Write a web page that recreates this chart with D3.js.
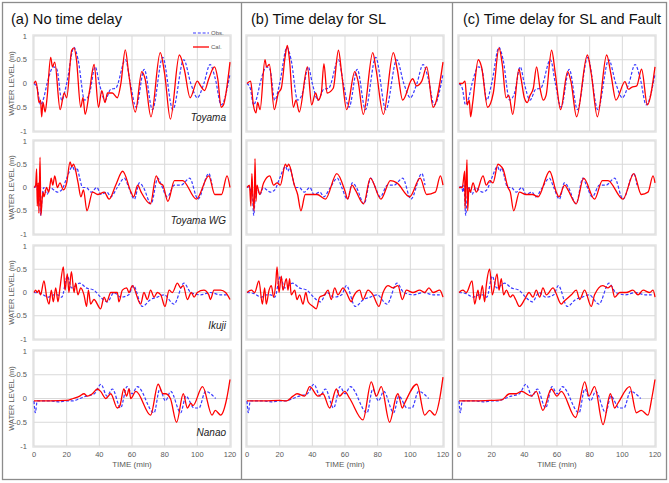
<!DOCTYPE html>
<html><head><meta charset="utf-8">
<script src="https://cdn.jsdelivr.net/npm/d3@7"></script>
<style>
html,body{margin:0;padding:0;background:#fff;}
svg{display:block;font-family:"Liberation Sans",Arial,sans-serif;}
</style></head>
<body>
<svg id="chart" width="669" height="483"></svg>
<script>
// ---------- DATA ----------
const panelTitles = ["(a) No time delay", "(b) Time delay for SL", "(c) Time delay for SL and Fault"];
const stations = ["Toyama", "Toyama WG", "Ikuji", "Nanao"];
const xTicks = [0, 20, 40, 60, 80, 100, 120];
const yTicks = [1, 0.5, 0, -0.5, -1];
const yTickLabels = ["1", "0.5", "0", "-0.5", "-1"];
const legendLabels = ["Obs.", "Cal."];

// [time (min), water level (m)]
const toyamaObs = [[0,0],[2,-0.1],[4,-0.45],[6,-0.3],[8,0],[12,0.35],[14,0.3],[17,-0.35],[20,0],[24.5,0.76],[27,0.5],[31,-0.35],[34,-0.2],[37.5,0.35],[40,0],[43.5,-0.35],[47,-0.12],[50,-0.1],[56,0.5],[59,0],[62.5,-0.5],[67.5,0.3],[72.5,-0.55],[78.8,0.55],[85,-0.55],[91.7,0.5],[96,0],[100,-0.3],[104,0],[107.8,0.4],[111,0.1],[114.6,-0.45],[120,0.2]];
const toyamaCalA = [[0,0],[1,0.05],[2,-0.1],[3,-0.4],[4,-0.35],[4.7,-0.7],[5.5,-0.4],[6.8,-0.6],[8,-0.3],[10.2,0.55],[11.3,0.35],[12.7,0.45],[16,-0.55],[18.5,-0.2],[20,-0.3],[23.1,0.7],[24.5,0.75],[26,0.5],[28.6,-0.5],[30,-0.3],[31.3,-0.65],[34,-0.15],[36.8,0.4],[39.5,-0.5],[41.5,-0.15],[43.5,-0.4],[45,-0.2],[48,-0.2],[51,-0.3],[53.2,0],[55.9,0.71],[58,0.2],[62,-0.6],[66,0.25],[68,0.1],[71.6,-0.7],[77.3,0.65],[80,0.2],[83.5,-0.75],[89,0.6],[92,0.3],[95.6,-0.3],[100,0.05],[102,-0.05],[104.4,-0.15],[107,0.1],[110.5,0.35],[112.5,0.1],[114.6,-0.5],[116,-0.45],[120,0.45]];
const toyamaCalB = [[0,0],[2.2,0.05],[3.9,-0.45],[5.5,-0.62],[6.5,-0.4],[8,-0.55],[11,0.5],[12,0.35],[13.7,0.4],[16.7,-0.55],[19.2,-0.2],[21,-0.1],[23.3,0.55],[24.7,0.8],[26,0.5],[28.4,-0.5],[30,-0.35],[32,-0.6],[37,0.35],[39.6,-0.45],[42,-0.2],[43.6,-0.35],[45.5,-0.2],[47.1,0.42],[49,-0.2],[52.8,-0.1],[56,0.7],[58,0.2],[61,-0.55],[66,0.25],[68,0.05],[71.2,-0.65],[77,0.65],[79,0.3],[83.5,-0.65],[89.6,0.65],[92,0.3],[95.3,-0.35],[101.4,0.1],[103.8,-0.05],[107,0.05],[110,0.35],[114,-0.5],[120,0.45]];
const toyamaCalC = [[0,0],[2,0],[3.7,0.05],[5,-0.45],[6.3,-0.35],[7.1,-0.7],[8.4,-0.4],[11.8,0.5],[13.8,0.35],[17.5,-0.5],[21,-0.2],[24.5,0.75],[26.5,0.4],[28.8,-0.3],[30.5,-0.25],[32.9,-0.65],[36.7,0.3],[38,0.1],[40,-0.3],[41.8,-0.4],[43.5,-0.25],[45.5,-0.1],[47.5,0.35],[49.6,-0.1],[51.6,-0.35],[53.3,-0.25],[56.7,0.7],[59,0.2],[62.2,-0.55],[66.5,0.25],[68.5,0.05],[72,-0.7],[78.6,0.6],[81,0.2],[84.7,-0.7],[90.4,0.6],[93,0.2],[96.1,-0.35],[101.6,0.04],[103.7,-0.12],[105.7,-0.08],[108.8,-0.05],[111.8,0.3],[115.3,-0.45],[120,0.35]];

const wgObs = [[0,0],[1.5,0.02],[2.5,-0.1],[3,0.05],[4.1,-0.6],[5,-0.2],[6,0],[8,-0.15],[10,0],[12,-0.05],[14.3,-0.1],[17,-0.05],[20,0.2],[23.6,0.45],[25,0.35],[26.2,0.42],[28,0.2],[29.7,0],[32,0],[35,-0.1],[38.5,0],[41,-0.15],[44.7,-0.1],[47,-0.2],[51,0],[55.3,0.2],[58,0],[61.5,-0.25],[64.5,0.1],[67,0],[71.7,-0.35],[75.8,0.2],[78,0.05],[81.6,-0.2],[86,0.05],[90,0.05],[95.3,0.2],[100.4,-0.25],[107,0.3],[109,0.05]];
const wgCalA = [[0,0],[1,0.05],[1.6,0.4],[2,-0.4],[2.6,0.1],[3,-0.55],[3.7,0.65],[4.2,-0.6],[5,-0.25],[5.6,-0.1],[6.1,-0.2],[7.7,0],[9,-0.1],[10,0.1],[10.5,0.2],[11.5,0.05],[12.7,0.25],[14.3,0],[15.9,0.1],[18,-0.05],[20,0.1],[22.1,0.55],[23.1,0.45],[24.2,0.5],[27,0.1],[28.7,-0.2],[30.3,-0.05],[32.4,-0.5],[35.9,-0.1],[39,-0.15],[43,-0.1],[46,-0.25],[50,0.05],[54.3,0.35],[59.4,-0.1],[61,-0.2],[63.5,0.05],[65.6,-0.1],[71.3,-0.35],[74.8,0.25],[76.8,0.1],[78.9,0.05],[82,-0.3],[86,0.15],[91,0.15],[99.4,-0.25],[107,0.25],[110.7,-0.15],[114.8,-0.15],[118.2,0.25],[120,0]];
const wgCalB = [[0,0],[1.5,0.05],[2.4,-0.4],[3,0.3],[3.6,-0.2],[4.4,-0.5],[4.9,0.62],[5.5,-0.3],[6.1,0.05],[7.8,-0.15],[10.2,0.1],[13.9,0.25],[16.3,0.05],[18.4,0.1],[20.4,0.05],[23.5,0.5],[24.5,0.45],[25.5,0.5],[29,0.05],[31,-0.15],[33,-0.5],[35.7,-0.15],[38.8,-0.15],[42.9,-0.15],[48,-0.25],[55,0.3],[60.2,-0.1],[61.6,-0.25],[64.3,0.05],[66.3,-0.05],[71.4,-0.35],[75.5,0.2],[82,-0.25],[87.8,0.15],[91.8,0.1],[99.6,-0.2],[106,0.2],[110,-0.15],[115.3,-0.1],[118.4,0.25],[120,0.05]];
const wgCalC = [[0,0],[2,0],[3.5,0.35],[3.7,-0.45],[4.9,0.6],[5.3,-0.5],[6.1,0],[6.9,-0.1],[8.6,0.1],[10.6,-0.1],[14.7,0.25],[16.7,0.05],[18.8,0.15],[20.8,0.1],[23.9,0.5],[25.9,0.45],[26.9,0.4],[30,0],[31.4,-0.1],[33.5,-0.5],[37,-0.1],[41,-0.15],[45,-0.15],[48.4,-0.2],[55.5,0.35],[59.6,-0.1],[61.2,-0.2],[64.7,0.05],[66.7,-0.05],[71.8,-0.35],[76.3,0.2],[83,-0.25],[87.8,0.15],[91.2,0.15],[100.4,-0.25],[107,0.3],[111.6,-0.15],[115.7,-0.1],[118.8,0.25],[120,0.1]];

const ikujiObs = [[0,0],[4,-0.02],[9,-0.1],[12,-0.05],[14.5,-0.05],[17,-0.1],[20.4,0.35],[23,0.1],[28,0.2],[32,0.1],[36.7,0.05],[40.8,-0.1],[45,-0.2],[49,0],[53,-0.1],[58,-0.05],[60.8,0.15],[66.3,-0.3],[71.4,-0.15],[75.5,-0.1],[79.6,-0.05],[85.7,-0.25],[91.8,0.2],[96,0],[102,-0.05],[108,0],[114,-0.05],[118,-0.05]];
const ikujiCalA = [[0,0],[1,0.05],[2,0],[3,0.05],[4,-0.05],[6.1,0.25],[7.8,-0.1],[9.2,-0.25],[10.6,0.05],[11.8,-0.2],[13.3,0.1],[14.7,-0.2],[15.9,0.1],[18,0.55],[19,0.05],[20.4,0.4],[21.4,0],[22.9,0.45],[24.5,0],[25.5,0.2],[26.9,-0.05],[28.6,0.1],[30.6,-0.05],[32.2,-0.3],[33.3,0.05],[34.7,-0.25],[36.7,-0.15],[40.8,-0.35],[42.9,-0.1],[44.5,-0.2],[47,0],[51,0],[52,-0.2],[54.1,0.05],[56.7,0.1],[58.2,0],[60.2,0.15],[65.3,-0.25],[67.3,0],[69.4,-0.15],[71.4,0.05],[73.5,-0.1],[75.5,0],[77.6,-0.05],[80.2,-0.3],[82.7,0.05],[84.7,0],[87.8,0.2],[89.8,0.1],[91.4,0.15],[93.9,-0.15],[96.3,0],[98,-0.1],[100,0],[104,0.05],[107,-0.05],[108,-0.15],[110.2,0.05],[114.3,0.05],[117.3,0],[120,-0.15]];
const ikujiCalB = [[0,0],[2.7,0.05],[4.7,0],[7.3,0.25],[9.4,-0.25],[10.8,0.1],[11.8,-0.25],[13.5,0.05],[14.9,0.15],[16.3,-0.1],[17.6,0.2],[18.4,0.55],[19.6,0],[21,0.35],[22,0.05],[24.1,0.3],[25.1,0.05],[26.1,0.3],[27.1,-0.05],[29.2,0.05],[30.6,-0.15],[32.2,-0.05],[34.3,-0.25],[36,0],[37.4,-0.2],[40.4,-0.3],[42.4,-0.35],[44.5,-0.1],[47.5,-0.05],[49.6,0.05],[51.6,-0.15],[53.7,0.1],[55.7,-0.05],[58.8,0.1],[60.8,0],[63.9,-0.2],[65,-0.1],[69,0.05],[71,-0.15],[74.1,0.05],[77.1,-0.05],[80.8,-0.3],[83.3,0],[86.3,0.15],[89.4,0.1],[92.4,0.15],[95.1,-0.15],[97.6,0.05],[101.6,0],[105.7,0.05],[108.8,0],[111.4,0.1],[113.9,0],[118,0.05],[120,-0.1]];
const ikujiCalC = [[0,0],[2.4,0.05],[4.5,0],[8,0.25],[9.6,-0.25],[11.6,0.05],[12.7,-0.15],[14.3,0.15],[15.7,-0.2],[16.7,0.15],[18.8,0.5],[20.4,-0.05],[23.3,0.4],[24.5,0.05],[25.9,0.3],[27.3,-0.05],[29,0.05],[31.4,-0.1],[33,-0.05],[34.7,-0.15],[37,-0.3],[40.2,-0.15],[42.9,0],[45.3,-0.1],[47.3,0.05],[49.4,-0.1],[51.4,0.1],[53.5,-0.05],[57.6,0.1],[59.2,0],[62.6,-0.25],[64,-0.2],[68.8,-0.05],[71.8,0.05],[73.9,-0.15],[76.9,0.05],[81,-0.3],[83,-0.05],[88,0.15],[91.2,0.1],[93.3,0.15],[95.3,-0.1],[98.4,0],[102.4,0],[106.5,0.05],[109.6,-0.05],[112.7,0.05],[116.7,0],[118.8,0.05],[120,-0.1]];

const nanaoObs = [[0,-0.05],[0.8,-0.3],[2,-0.05],[10,-0.05],[15,-0.07],[20,-0.05],[24,-0.05],[28,0],[32,0.05],[37,0.1],[41,0.3],[44.7,0.05],[48,0.2],[53,-0.2],[57,0.25],[60,0.1],[63.3,0.25],[73.5,-0.3],[77,0.2],[80.5,-0.05],[83.7,0.15],[89.8,-0.3],[93,0.05],[98,-0.2],[101,-0.2],[105,0.15],[111.2,0]];
const nanaoCalA = [[0,-0.05],[10,-0.05],[20,-0.04],[24,0],[28,0.05],[30.6,0.1],[32.7,0.05],[35.7,0.1],[38.8,0.2],[40.8,0.15],[44,0],[47,0.1],[51,-0.2],[52.6,-0.15],[55,0.2],[56.7,0.05],[58.2,0.2],[59.2,0],[62.4,0.15],[71.4,-0.35],[76,0.3],[79,0.1],[80.5,0.1],[83.5,0],[87.3,-0.5],[91.4,0.1],[93.9,-0.2],[96,-0.1],[97.3,-0.15],[103.2,0.25],[109,-0.35],[111,-0.25],[114.3,-0.35],[118,0],[120,0.4]];
const nanaoCalB = [[0,-0.05],[10,-0.05],[20,-0.04],[24,-0.05],[28.2,0.05],[30.6,0.1],[35.3,0.05],[38.4,0.25],[43.5,0.05],[46.5,0.1],[50.6,-0.2],[54.7,0.2],[56.7,0.05],[59.8,0.15],[62.9,0],[71,-0.45],[76.1,0.35],[79.2,0.05],[82.2,0.25],[87.3,-0.5],[91.4,0.05],[92.4,0.1],[95.1,-0.2],[96.5,-0.1],[104,0.3],[108.8,-0.35],[111.8,-0.25],[115,-0.35],[118,0],[120,0.45]];
const nanaoCalC = [[0,-0.05],[10,-0.05],[20,-0.04],[26,-0.03],[31,0.1],[35,0.1],[38.2,0.15],[44.3,0.05],[47.3,0.15],[51.4,-0.25],[56.5,0.2],[60,0.05],[62.6,0.15],[71.4,-0.4],[77,0.35],[79.6,0.05],[83,0.25],[88.2,-0.55],[92.7,0.1],[95.3,-0.2],[97.3,-0.1],[104.5,0.25],[108.6,-0.3],[111.6,-0.25],[115.7,-0.35],[118,0],[120,0.4]];

const obsSeries = [toyamaObs, wgObs, ikujiObs, nanaoObs];
const calSeries = [
  [toyamaCalA, toyamaCalB, toyamaCalC],
  [wgCalA, wgCalB, wgCalC],
  [ikujiCalA, ikujiCalB, ikujiCalC],
  [nanaoCalA, nanaoCalB, nanaoCalC]
];

// ---------- LAYOUT ----------
const svg = d3.select("#chart");
const colX = [[34, 230], [247, 443], [459, 655]];
const rowY = [[36, 131], [141, 234], [246, 339], [351, 446]];
const titleLen = [111, 135, 198];
const titleX = [11, 251, 463];
const gridColor = "#d9d9d9";
const textGray = "#595959";
const obsColor = "#3a3aff";
const calColor = "#ff0000";

// outer frame & separators
svg.append("rect").attr("x", 2.5).attr("y", 2.5).attr("width", 664).attr("height", 477)
  .attr("fill", "none").attr("stroke", "#8c8c8c").attr("stroke-width", 1.3);
[241.5, 452.5].forEach(x => svg.append("line").attr("x1", x).attr("x2", x).attr("y1", 2.5).attr("y2", 479.5)
  .attr("stroke", "#8c8c8c").attr("stroke-width", 1.3));

panelTitles.forEach((t, c) => {
  svg.append("text").attr("x", titleX[c]).attr("y", 24).attr("font-size", 14.5).attr("fill", "#111")
    .attr("textLength", titleLen[c]).attr("lengthAdjust", "spacingAndGlyphs").text(t);
});

for (let r = 0; r < 4; r++) {
  for (let c = 0; c < 3; c++) {
    const x = d3.scaleLinear().domain([0, 120]).range(colX[c]);
    const y = d3.scaleLinear().domain([1, -1]).range(rowY[r]);
    const g = svg.append("g");

    // plot border
    g.append("rect").attr("x", colX[c][0] - 1).attr("y", rowY[r][0] - 1)
      .attr("width", colX[c][1] - colX[c][0] + 2).attr("height", rowY[r][1] - rowY[r][0] + 2)
      .attr("fill", "none").attr("stroke", "#e4e4e4").attr("stroke-width", 1.5);
    // gridlines
    g.selectAll(".hg").data(yTicks).enter().append("line")
      .attr("x1", colX[c][0]).attr("x2", colX[c][1]).attr("y1", d => y(d)).attr("y2", d => y(d))
      .attr("stroke", gridColor).attr("stroke-width", 1);
    g.selectAll(".vg").data(xTicks).enter().append("line")
      .attr("y1", rowY[r][0]).attr("y2", rowY[r][1]).attr("x1", d => x(d)).attr("x2", d => x(d))
      .attr("stroke", gridColor).attr("stroke-width", 1);

    if (c === 0) {
      g.selectAll(".yl").data(yTicks).enter().append("text")
        .attr("x", 27).attr("y", d => y(d) + 2.6).attr("text-anchor", "end")
        .attr("font-size", 7.5).attr("fill", textGray)
        .text((d, i) => yTickLabels[i]);
      g.append("text").attr("transform", `translate(14,${y(0)}) rotate(-90)`)
        .attr("text-anchor", "middle").attr("font-size", 7.5).attr("fill", textGray)
        .text("WATER LEVEL (m)");
      g.append("text").attr("x", 226).attr("y", y(-0.78)).attr("text-anchor", "end")
        .attr("font-size", 10).attr("font-style", "italic").attr("fill", "#222")
        .text(stations[r]);
    }
    if (r === 3) {
      g.selectAll(".xl").data(xTicks).enter().append("text")
        .attr("x", d => x(d)).attr("y", 457).attr("text-anchor", "middle")
        .attr("font-size", 7.5).attr("fill", textGray).text(d => d);
      g.append("text").attr("x", (colX[c][0] + colX[c][1]) / 2).attr("y", 467)
        .attr("text-anchor", "middle").attr("font-size", 8).attr("fill", textGray).text("TIME (min)");
    }

    const line = d3.line().x(d => x(d[0])).y(d => y(d[1])).curve(d3.curveMonotoneX);
    g.append("path").datum(obsSeries[r]).attr("d", line).attr("fill", "none")
      .attr("stroke", obsColor).attr("stroke-width", 1.2).attr("stroke-dasharray", "3,1.8");
    g.append("path").datum(calSeries[r][c]).attr("d", line).attr("fill", "none")
      .attr("stroke", calColor).attr("stroke-width", 1.3).attr("stroke-linejoin", "round");
  }
}

// legend (panel a, row 1)
const lg = svg.append("g");
lg.append("line").attr("x1", 193).attr("x2", 209).attr("y1", 33).attr("y2", 33)
  .attr("stroke", obsColor).attr("stroke-width", 1.2).attr("stroke-dasharray", "3,1.8");
lg.append("line").attr("x1", 193).attr("x2", 209).attr("y1", 47).attr("y2", 47)
  .attr("stroke", calColor).attr("stroke-width", 1.3);
lg.append("text").attr("x", 211).attr("y", 35).attr("font-size", 6).attr("fill", textGray).text(legendLabels[0]);
lg.append("text").attr("x", 211).attr("y", 49).attr("font-size", 6).attr("fill", textGray).text(legendLabels[1]);
</script>
</body></html>
